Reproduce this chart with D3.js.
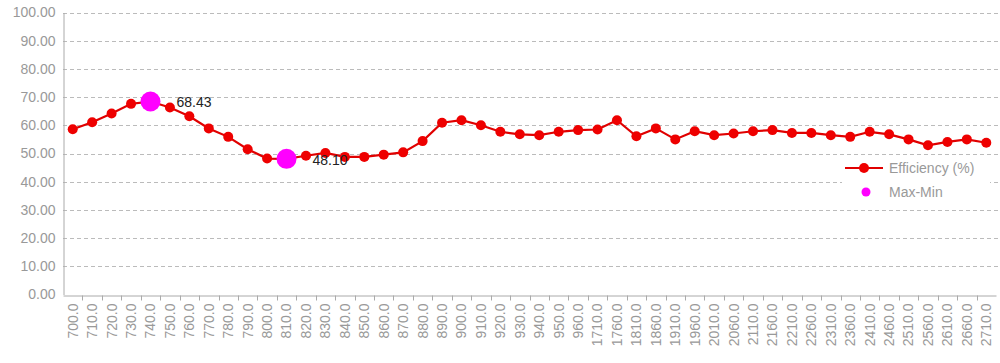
<!DOCTYPE html>
<html><head><meta charset="utf-8">
<script src="https://cdn.jsdelivr.net/npm/d3@7"></script>
<style>body{margin:0;background:#fff;}svg{display:block;font-family:"Liberation Sans",Arial,sans-serif;}</style>
</head><body><svg id="c" width="1000" height="363"></svg>
<script>
const categories = ["700.0","710.0","720.0","730.0","740.0","750.0","760.0","770.0","780.0","790.0","800.0","810.0","820.0","830.0","840.0","850.0","860.0","870.0","880.0","890.0","900.0","910.0","920.0","930.0","940.0","950.0","960.0","1710.0","1760.0","1810.0","1860.0","1910.0","1960.0","2010.0","2060.0","2110.0","2160.0","2210.0","2260.0","2310.0","2360.0","2410.0","2460.0","2510.0","2560.0","2610.0","2660.0","2710.0"];
const efficiency = [58.6,61.1,64.2,67.6,68.43,66.3,63.2,58.9,55.9,51.5,48.2,48.10,49.2,50.2,48.8,48.8,49.6,50.4,54.4,60.9,61.8,60.0,57.7,56.8,56.5,57.7,58.3,58.5,61.8,56.1,58.9,55.0,57.9,56.5,57.1,57.9,58.3,57.3,57.3,56.5,55.9,57.7,56.8,55.0,52.9,54.1,55.0,53.8];
const yTicks = [0,10,20,30,40,50,60,70,80,90,100];
const seriesNames = ["Efficiency (%)","Max-Min"];

const svg = d3.select("#c");
const m = {l:63, r:996, t:12.5, b:294.5};
const x = d3.scaleBand().domain(categories).range([m.l, m.r]).padding(0);
const y = d3.scaleLinear().domain([0,100]).range([m.b, m.t]);
const FS = "14px";

// gridlines
svg.append("g").selectAll("line").data(yTicks.filter(d=>d>0)).join("line")
  .attr("x1", m.l).attr("x2", 998).attr("y1", d=>Math.round(y(d))+0.5).attr("y2", d=>Math.round(y(d))+0.5)
  .attr("stroke","#bbb").attr("stroke-dasharray","4,3");

// y axis
const yAxis = d3.axisLeft(y).tickValues(yTicks).tickFormat(d3.format(".2f")).tickSize(0).tickPadding(8);
const gy = svg.append("g").attr("transform",`translate(${m.l+0.5},0)`).call(yAxis);
gy.select(".domain").attr("stroke","#aaa");
gy.selectAll("text").attr("fill","#999").attr("font-size",FS).attr("font-family","Liberation Sans, Arial, sans-serif");

// x axis
const xAxis = d3.axisBottom(x).tickSize(0).tickPadding(0);
const gx = svg.append("g").attr("transform",`translate(0,${Math.round(m.b)+0.5})`).call(xAxis);
gx.select(".domain").attr("stroke","#aaa");
gx.selectAll("text").attr("fill","#999").attr("font-size",FS).attr("font-family","Liberation Sans, Arial, sans-serif")
  .attr("transform","rotate(-90)").attr("text-anchor","end").attr("dy","0.35em").attr("x",-8).attr("y",0);
// tick marks at band boundaries
gx.append("g").selectAll("line").data(categories.slice(1)).join("line")
  .attr("x1", d=>Math.round(x(d))+0.5).attr("x2", d=>Math.round(x(d))+0.5)
  .attr("y1",0).attr("y2",5).attr("stroke","#aaa");

const cx = d => x(d) + x.bandwidth()/2;
const pts = categories.map((c,i)=>({c, v:efficiency[i]}));

// line
svg.append("path").datum(pts)
  .attr("d", d3.line().x(d=>cx(d.c)).y(d=>y(d.v)))
  .attr("fill","none").attr("stroke","#e00000").attr("stroke-width",2.2);
svg.append("g").selectAll("circle").data(pts).join("circle")
  .attr("cx", d=>cx(d.c)).attr("cy", d=>y(d.v)).attr("r",5).attr("fill","#ee0000");

// max-min
const maxP = pts.reduce((a,b)=>b.v>a.v?b:a);
const minP = pts.reduce((a,b)=>b.v<a.v?b:a);
const mm = [maxP, minP];
svg.append("g").selectAll("circle").data(mm).join("circle")
  .attr("cx", d=>cx(d.c)).attr("cy", d=>y(d.v)).attr("r",10).attr("fill","#ff00ff");
svg.append("g").selectAll("text").data(mm).join("text")
  .attr("x", d=>cx(d.c)+26).attr("y", d=>y(d.v)+1).attr("dy","0.35em")
  .attr("font-size",FS).attr("fill","#222").text(d=>d3.format(".2f")(d.v));

// legend
const lg = svg.append("g");
lg.append("rect").attr("x",842).attr("y",158).attr("width",148).attr("height",46).attr("fill","#fff");
lg.append("line").attr("x1",845).attr("x2",883).attr("y1",168).attr("y2",168).attr("stroke","#e00000").attr("stroke-width",2.2);
lg.append("circle").attr("cx",864).attr("cy",168).attr("r",5).attr("fill","#ee0000");
lg.append("circle").attr("cx",866).attr("cy",192).attr("r",4.5).attr("fill","#ff00ff");
lg.selectAll("text").data(seriesNames).join("text")
  .attr("x",889).attr("y",(d,i)=>168+i*24).attr("dy","0.35em")
  .attr("font-size",FS).attr("fill","#999").text(d=>d);
</script></body></html>
